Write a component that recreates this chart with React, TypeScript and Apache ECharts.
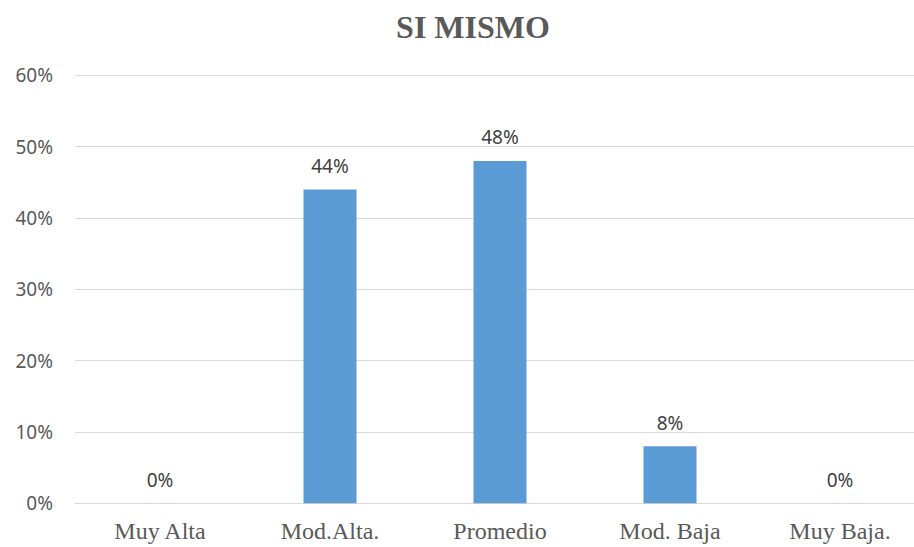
import React, { useEffect, useRef } from "react";
import * as echarts from "echarts";

const title = "SI MISMO";
const categories = ["Muy Alta", "Mod.Alta.", "Promedio", "Mod. Baja", "Muy Baja."];
const values = [0, 44, 48, 8, 0];
const yTicks = [0, 10, 20, 30, 40, 50, 60];

export default function App() {
  const ref = useRef<HTMLDivElement>(null);
  useEffect(() => {
    if (!ref.current) return;
    const chart = echarts.init(ref.current, null, { renderer: "svg" });
    chart.setOption({
      animation: false,
      backgroundColor: "#ffffff",
      title: {
        text: title,
        left: 468,
        textAlign: "center",
        top: 6,
        textStyle: {
          fontFamily: "'Liberation Serif', 'Times New Roman', serif",
          fontWeight: "bold",
          fontSize: 32,
          color: "#595959",
        },
      },
      grid: { left: 75, width: 850, top: 75.3, height: 428 },
      xAxis: {
        type: "category",
        data: categories,
        axisLine: { show: true, lineStyle: { color: "#D9D9D9", width: 1 } },
        axisTick: { show: false },
        axisLabel: {
          fontFamily: "'Liberation Serif', 'Times New Roman', serif",
          fontSize: 24,
          color: "#595959",
          margin: 16,
        },
      },
      yAxis: {
        type: "value",
        min: yTicks[0],
        max: yTicks[yTicks.length - 1],
        interval: 10,
        axisLine: { show: false },
        axisTick: { show: false },
        splitLine: { lineStyle: { color: "#D9D9D9", width: 1 } },
        axisLabel: {
          formatter: (v: number) => v + "%",
          fontFamily: "'Noto Sans', sans-serif",
          fontSize: 19,
          color: "#595959",
          margin: 22,
        },
      },
      series: [
        {
          type: "bar",
          data: values,
          barWidth: 53,
          itemStyle: { color: "#5B9BD5" },
          label: {
            show: true,
            position: "top",
            distance: 14,
            formatter: (p: any) => p.value + "%",
            fontFamily: "'Noto Sans', sans-serif",
            fontSize: 19,
            color: "#404040",
          },
        },
      ],
    });
    return () => chart.dispose();
  }, []);
  return (
    <div
      style={{ position: "absolute", left: 0, top: 0, width: 914, height: 547, overflow: "hidden" }}
    >
      <div ref={ref} style={{ width: 925, height: 547 }} />
    </div>
  );
}
